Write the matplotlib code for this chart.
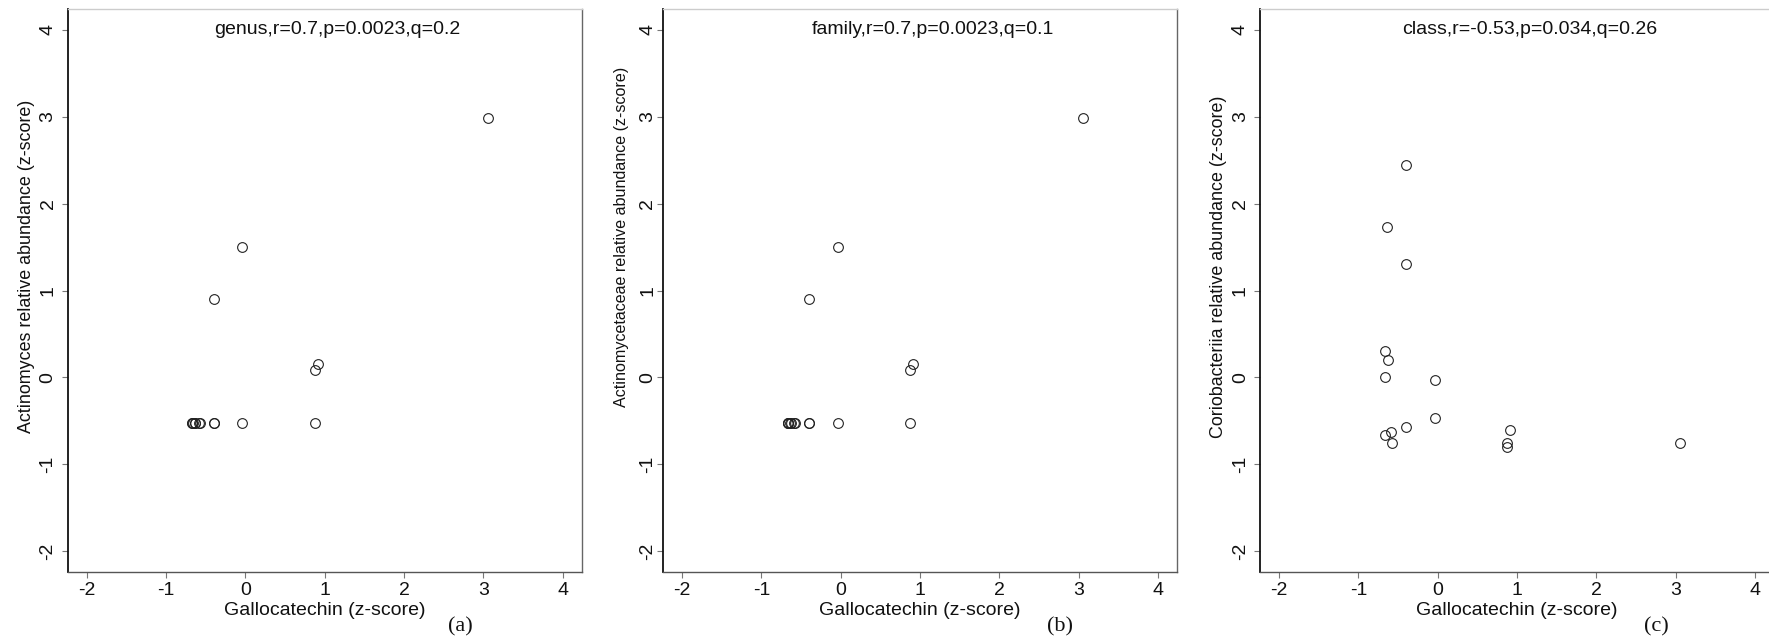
import matplotlib.pyplot as plt

plt.rcParams['font.family'] = ['Liberation Sans', 'DejaVu Sans']
plt.rcParams['axes.unicode_minus'] = False

# Gallocatechin z-scores (same samples in all three panels)
gallocatechin = [-0.67, -0.67, -0.64, -0.63, -0.66, -0.59, -0.57, -0.40,
                 -0.40, -0.40, -0.04, -0.04, 0.88, 0.88, 0.91, 3.06]
# Actinomyces (genus) and Actinomycetaceae (family) z-scores
actinomyces = [-0.52, -0.52, -0.52, -0.52, -0.52, -0.52, -0.52, 0.90,
               -0.52, -0.52, 1.50, -0.52, 0.08, -0.52, 0.15, 2.98]
actinomycetaceae = list(actinomyces)
# Coriobacteriia (class) z-scores
coriobacteriia = [0.30, 0.01, 1.73, 0.20, -0.66, -0.63, -0.76, 2.45,
                  1.30, -0.57, -0.03, -0.47, -0.76, -0.80, -0.61, -0.76]

titles = ['genus,r=0.7,p=0.0023,q=0.2',
          'family,r=0.7,p=0.0023,q=0.1',
          'class,r=-0.53,p=0.034,q=0.26']
ylabels = ['Actinomyces relative abundance (z-score)',
           'Actinomycetaceae relative abundance (z-score)',
           'Coriobacteriia relative abundance (z-score)']
panel_tags = ['(a)', '(b)', '(c)']
ticks = [-2, -1, 0, 1, 2, 3, 4]

W, H = 1769, 643
fig = plt.figure(figsize=(W / 100, H / 100), dpi=100)

lefts = [67.7, 663, 1260]
tag_x = [460, 1060, 1656]
ylab_size = [12.9, 11.6, 12.9]
ylab_y = [0.542, 0.595, 0.542]
ytick_pad = [3.5, 0.5, 3.5]
series = [actinomyces, actinomycetaceae, coriobacteriia]

for i in range(3):
    ax = fig.add_axes([lefts[i] / W, 1 - 572 / H, 514 / W, 563 / H])
    ax.plot(gallocatechin, series[i], linestyle='none', marker='o', ms=7,
            mfc='none', mec='#222222', mew=0.8)
    ax.set_xlim(-2.24, 4.24)
    ax.set_ylim(-2.24, 4.24)
    ax.set_xticks(ticks)
    ax.set_yticks(ticks)

    ax.text(1.16, 4.0, titles[i], ha='center', va='center', fontsize=14,
            color='#111111')

    ax.set_xlabel('Gallocatechin (z-score)', fontsize=14, color='#111111',
                  va='center')
    ax.xaxis.set_label_coords(0.5, -0.069)
    ax.set_ylabel(ylabels[i], fontsize=ylab_size[i], color='#111111',
                  va='center', ha='center')
    ax.yaxis.set_label_coords(-0.080, ylab_y[i])

    ax.tick_params(axis='x', length=4, width=0.8, color='#777777',
                   labelsize=14, pad=3, labelcolor='#111111')
    ax.tick_params(axis='y', length=4.5, width=0.8, color='#777777',
                   labelsize=14, pad=ytick_pad[i], labelcolor='#111111',
                   labelrotation=90)
    for lab in ax.get_yticklabels():
        lab.set_verticalalignment('center')

    ax.spines['left'].set_color('#111111')
    ax.spines['left'].set_linewidth(1.3)
    ax.spines['bottom'].set_color('#555555')
    ax.spines['bottom'].set_linewidth(1.0)
    ax.spines['top'].set_color('#cccccc')
    ax.spines['top'].set_linewidth(1.0)
    ax.spines['right'].set_color('#666666')
    ax.spines['right'].set_linewidth(1.0)

    fig.text(tag_x[i] / W, 1 - 627 / H, panel_tags[i], ha='center',
             va='center', fontsize=16, family='Liberation Serif',
             color='#111111')

fig.savefig('out.png', dpi=100, facecolor='white')
